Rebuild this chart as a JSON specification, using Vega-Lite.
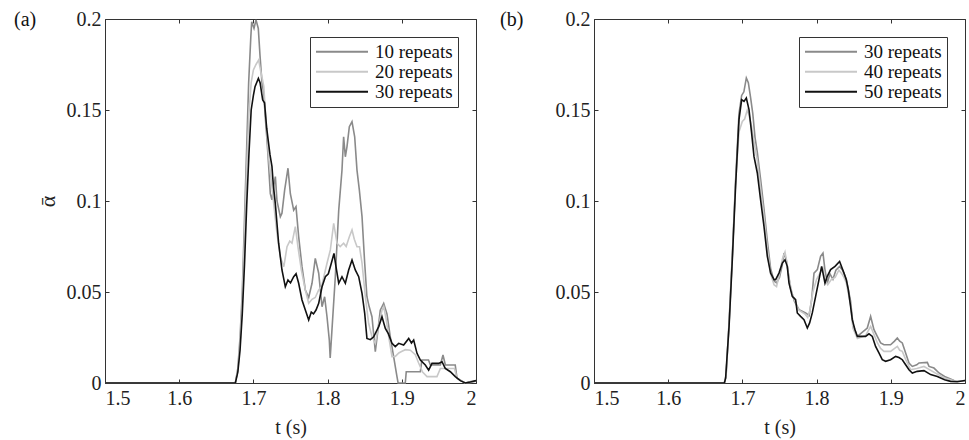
{
"$schema": "https://vega.github.io/schema/vega-lite/v6.json",
"background": "white",
"padding": {"left": 13, "top": 8, "right": 5, "bottom": 5},
"config": {
 "font": "Liberation Serif, Times New Roman, Times, serif",
 "view": {"stroke": "#333333", "strokeWidth": 1},
 "axis": {"labelFont": "Liberation Serif, Times New Roman, Times, serif", "labelFontSize": 20, "labelColor": "#222222", "titleFont": "Liberation Serif, Times New Roman, Times, serif", "titleFontSize": 20, "titleFontWeight": "normal", "titleColor": "#222222", "domain": false, "grid": false, "tickColor": "#333333", "tickSize": -4, "tickWidth": 1},
 "legend": {"orient": "top-right", "offset": 18, "title": null, "labelFont": "Liberation Serif, Times New Roman, Times, serif", "labelFontSize": 19, "labelColor": "#111111", "symbolType": "stroke", "symbolSize": 2704, "symbolStrokeWidth": 1.8, "clipHeight": 19.5, "rowPadding": 0, "labelOffset": 6, "padding": 5, "strokeColor": "#333333", "fillColor": "white"},
 "title": {"font": "Liberation Serif, Times New Roman, Times, serif", "fontSize": 20, "fontWeight": "normal", "color": "#111111"}
},
"datasets": {
 "a": [
  {"s":"10 repeats","t":1.5,"y":0},{"s":"10 repeats","t":1.6757,"y":0},{"s":"10 repeats","t":1.679,"y":0.008},{"s":"10 repeats","t":1.682,"y":0.025},{"s":"10 repeats","t":1.685,"y":0.05},{"s":"10 repeats","t":1.688,"y":0.09},{"s":"10 repeats","t":1.691,"y":0.13},{"s":"10 repeats","t":1.6936,"y":0.165},{"s":"10 repeats","t":1.6965,"y":0.19},{"s":"10 repeats","t":1.6977,"y":0.1985},{"s":"10 repeats","t":1.7008,"y":0.1948},{"s":"10 repeats","t":1.7035,"y":0.1995},{"s":"10 repeats","t":1.7066,"y":0.1948},{"s":"10 repeats","t":1.7089,"y":0.18},{"s":"10 repeats","t":1.7116,"y":0.1647},{"s":"10 repeats","t":1.714,"y":0.159},{"s":"10 repeats","t":1.716,"y":0.146},{"s":"10 repeats","t":1.7183,"y":0.1336},{"s":"10 repeats","t":1.7206,"y":0.119},{"s":"10 repeats","t":1.7228,"y":0.104},{"s":"10 repeats","t":1.725,"y":0.1006},{"s":"10 repeats","t":1.7273,"y":0.108},{"s":"10 repeats","t":1.7296,"y":0.1134},{"s":"10 repeats","t":1.7318,"y":0.1},{"s":"10 repeats","t":1.7363,"y":0.0914},{"s":"10 repeats","t":1.7385,"y":0.0933},{"s":"10 repeats","t":1.7421,"y":0.106},{"s":"10 repeats","t":1.7466,"y":0.118},{"s":"10 repeats","t":1.7498,"y":0.104},{"s":"10 repeats","t":1.7543,"y":0.095},{"s":"10 repeats","t":1.7574,"y":0.0969},{"s":"10 repeats","t":1.761,"y":0.0804},{"s":"10 repeats","t":1.7655,"y":0.0639},{"s":"10 repeats","t":1.77,"y":0.0511},{"s":"10 repeats","t":1.7745,"y":0.047},{"s":"10 repeats","t":1.779,"y":0.0548},{"s":"10 repeats","t":1.7834,"y":0.0685},{"s":"10 repeats","t":1.788,"y":0.0603},{"s":"10 repeats","t":1.7925,"y":0.0419},{"s":"10 repeats","t":1.796,"y":0.0474},{"s":"10 repeats","t":1.7992,"y":0.0364},{"s":"10 repeats","t":1.8023,"y":0.0236},{"s":"10 repeats","t":1.8035,"y":0.0137},{"s":"10 repeats","t":1.806,"y":0.03},{"s":"10 repeats","t":1.8104,"y":0.0584},{"s":"10 repeats","t":1.815,"y":0.095},{"s":"10 repeats","t":1.8194,"y":0.117},{"s":"10 repeats","t":1.8216,"y":0.1353},{"s":"10 repeats","t":1.8239,"y":0.1243},{"s":"10 repeats","t":1.8261,"y":0.1298},{"s":"10 repeats","t":1.8293,"y":0.1408},{"s":"10 repeats","t":1.8329,"y":0.1436},{"s":"10 repeats","t":1.8365,"y":0.1353},{"s":"10 repeats","t":1.8396,"y":0.117},{"s":"10 repeats","t":1.8428,"y":0.106},{"s":"10 repeats","t":1.8464,"y":0.0914},{"s":"10 repeats","t":1.85,"y":0.0658},{"s":"10 repeats","t":1.853,"y":0.0474},{"s":"10 repeats","t":1.856,"y":0.042},{"s":"10 repeats","t":1.8598,"y":0.0364},{"s":"10 repeats","t":1.8625,"y":0.025},{"s":"10 repeats","t":1.8643,"y":0.0172},{"s":"10 repeats","t":1.8675,"y":0.028},{"s":"10 repeats","t":1.871,"y":0.04},{"s":"10 repeats","t":1.8756,"y":0.0438},{"s":"10 repeats","t":1.88,"y":0.038},{"s":"10 repeats","t":1.8845,"y":0.0254},{"s":"10 repeats","t":1.889,"y":0.0145},{"s":"10 repeats","t":1.8935,"y":0.0035},{"s":"10 repeats","t":1.895,"y":0},{"s":"10 repeats","t":1.9047,"y":0},{"s":"10 repeats","t":1.906,"y":0.0062},{"s":"10 repeats","t":1.925,"y":0.0062},{"s":"10 repeats","t":1.927,"y":0.0126},{"s":"10 repeats","t":1.936,"y":0.0126},{"s":"10 repeats","t":1.9385,"y":0.0099},{"s":"10 repeats","t":1.952,"y":0.0099},{"s":"10 repeats","t":1.9555,"y":0.0154},{"s":"10 repeats","t":1.9587,"y":0.0099},{"s":"10 repeats","t":1.972,"y":0.0099},{"s":"10 repeats","t":1.9744,"y":0.0026},{"s":"10 repeats","t":1.985,"y":0},{"s":"10 repeats","t":1.993,"y":0.0008},{"s":"10 repeats","t":2.0,"y":0.001},
  {"s":"20 repeats","t":1.5,"y":0},{"s":"20 repeats","t":1.6757,"y":0},{"s":"20 repeats","t":1.679,"y":0.007},{"s":"20 repeats","t":1.682,"y":0.022},{"s":"20 repeats","t":1.685,"y":0.045},{"s":"20 repeats","t":1.688,"y":0.08},{"s":"20 repeats","t":1.691,"y":0.118},{"s":"20 repeats","t":1.694,"y":0.148},{"s":"20 repeats","t":1.697,"y":0.165},{"s":"20 repeats","t":1.7,"y":0.172},{"s":"20 repeats","t":1.7035,"y":0.175},{"s":"20 repeats","t":1.7071,"y":0.1775},{"s":"20 repeats","t":1.7095,"y":0.172},{"s":"20 repeats","t":1.7116,"y":0.168},{"s":"20 repeats","t":1.714,"y":0.163},{"s":"20 repeats","t":1.716,"y":0.15},{"s":"20 repeats","t":1.7206,"y":0.124},{"s":"20 repeats","t":1.725,"y":0.108},{"s":"20 repeats","t":1.7296,"y":0.09},{"s":"20 repeats","t":1.7318,"y":0.082},{"s":"20 repeats","t":1.7363,"y":0.0694},{"s":"20 repeats","t":1.741,"y":0.0639},{"s":"20 repeats","t":1.7453,"y":0.0749},{"s":"20 repeats","t":1.749,"y":0.078},{"s":"20 repeats","t":1.752,"y":0.0768},{"s":"20 repeats","t":1.7565,"y":0.0859},{"s":"20 repeats","t":1.76,"y":0.0749},{"s":"20 repeats","t":1.7646,"y":0.0621},{"s":"20 repeats","t":1.77,"y":0.0511},{"s":"20 repeats","t":1.7745,"y":0.0438},{"s":"20 repeats","t":1.779,"y":0.046},{"s":"20 repeats","t":1.7834,"y":0.047},{"s":"20 repeats","t":1.788,"y":0.0511},{"s":"20 repeats","t":1.792,"y":0.053},{"s":"20 repeats","t":1.796,"y":0.0603},{"s":"20 repeats","t":1.7992,"y":0.0658},{"s":"20 repeats","t":1.8037,"y":0.0731},{"s":"20 repeats","t":1.8082,"y":0.0877},{"s":"20 repeats","t":1.8127,"y":0.0768},{"s":"20 repeats","t":1.817,"y":0.075},{"s":"20 repeats","t":1.8216,"y":0.0768},{"s":"20 repeats","t":1.825,"y":0.075},{"s":"20 repeats","t":1.8293,"y":0.0804},{"s":"20 repeats","t":1.8329,"y":0.0841},{"s":"20 repeats","t":1.836,"y":0.079},{"s":"20 repeats","t":1.8396,"y":0.0749},{"s":"20 repeats","t":1.843,"y":0.0749},{"s":"20 repeats","t":1.8464,"y":0.0658},{"s":"20 repeats","t":1.8509,"y":0.0474},{"s":"20 repeats","t":1.8553,"y":0.0328},{"s":"20 repeats","t":1.8598,"y":0.0254},{"s":"20 repeats","t":1.8643,"y":0.0218},{"s":"20 repeats","t":1.868,"y":0.03},{"s":"20 repeats","t":1.8733,"y":0.04},{"s":"20 repeats","t":1.8756,"y":0.042},{"s":"20 repeats","t":1.879,"y":0.035},{"s":"20 repeats","t":1.8823,"y":0.0256},{"s":"20 repeats","t":1.8868,"y":0.0145},{"s":"20 repeats","t":1.8913,"y":0.0146},{"s":"20 repeats","t":1.896,"y":0.0165},{"s":"20 repeats","t":1.9003,"y":0.0174},{"s":"20 repeats","t":1.9048,"y":0.0183},{"s":"20 repeats","t":1.9115,"y":0.018},{"s":"20 repeats","t":1.9182,"y":0.0156},{"s":"20 repeats","t":1.9227,"y":0.011},{"s":"20 repeats","t":1.928,"y":0.006},{"s":"20 repeats","t":1.934,"y":0.0035},{"s":"20 repeats","t":1.9474,"y":0.0035},{"s":"20 repeats","t":1.952,"y":0.008},{"s":"20 repeats","t":1.971,"y":0.008},{"s":"20 repeats","t":1.9744,"y":0.0026},{"s":"20 repeats","t":1.985,"y":0},{"s":"20 repeats","t":1.995,"y":0.0005},{"s":"20 repeats","t":2.0,"y":0.001},
  {"s":"30 repeats","t":1.5,"y":0},{"s":"30 repeats","t":1.6757,"y":0},{"s":"30 repeats","t":1.679,"y":0.006},{"s":"30 repeats","t":1.682,"y":0.018},{"s":"30 repeats","t":1.685,"y":0.038},{"s":"30 repeats","t":1.688,"y":0.065},{"s":"30 repeats","t":1.691,"y":0.098},{"s":"30 repeats","t":1.694,"y":0.126},{"s":"30 repeats","t":1.697,"y":0.15},{"s":"30 repeats","t":1.7,"y":0.158},{"s":"30 repeats","t":1.7022,"y":0.1628},{"s":"30 repeats","t":1.7067,"y":0.1674},{"s":"30 repeats","t":1.709,"y":0.165},{"s":"30 repeats","t":1.7125,"y":0.1555},{"s":"30 repeats","t":1.715,"y":0.154},{"s":"30 repeats","t":1.7179,"y":0.14},{"s":"30 repeats","t":1.7224,"y":0.1253},{"s":"30 repeats","t":1.725,"y":0.119},{"s":"30 repeats","t":1.7268,"y":0.109},{"s":"30 repeats","t":1.7295,"y":0.0987},{"s":"30 repeats","t":1.734,"y":0.0768},{"s":"30 repeats","t":1.7385,"y":0.0621},{"s":"30 repeats","t":1.743,"y":0.0529},{"s":"30 repeats","t":1.7466,"y":0.0566},{"s":"30 repeats","t":1.75,"y":0.055},{"s":"30 repeats","t":1.7543,"y":0.0584},{"s":"30 repeats","t":1.7575,"y":0.06},{"s":"30 repeats","t":1.761,"y":0.0548},{"s":"30 repeats","t":1.7655,"y":0.0456},{"s":"30 repeats","t":1.77,"y":0.0401},{"s":"30 repeats","t":1.7745,"y":0.0346},{"s":"30 repeats","t":1.778,"y":0.039},{"s":"30 repeats","t":1.781,"y":0.038},{"s":"30 repeats","t":1.7844,"y":0.0401},{"s":"30 repeats","t":1.788,"y":0.0438},{"s":"30 repeats","t":1.7925,"y":0.0529},{"s":"30 repeats","t":1.797,"y":0.0584},{"s":"30 repeats","t":1.801,"y":0.06},{"s":"30 repeats","t":1.805,"y":0.0658},{"s":"30 repeats","t":1.8086,"y":0.0712},{"s":"30 repeats","t":1.8113,"y":0.0639},{"s":"30 repeats","t":1.815,"y":0.0548},{"s":"30 repeats","t":1.8194,"y":0.0584},{"s":"30 repeats","t":1.8239,"y":0.0548},{"s":"30 repeats","t":1.8284,"y":0.0621},{"s":"30 repeats","t":1.8329,"y":0.0676},{"s":"30 repeats","t":1.8373,"y":0.0621},{"s":"30 repeats","t":1.8419,"y":0.0584},{"s":"30 repeats","t":1.8464,"y":0.0493},{"s":"30 repeats","t":1.85,"y":0.0383},{"s":"30 repeats","t":1.853,"y":0.0245},{"s":"30 repeats","t":1.8576,"y":0.0238},{"s":"30 repeats","t":1.8621,"y":0.0254},{"s":"30 repeats","t":1.8689,"y":0.031},{"s":"30 repeats","t":1.8733,"y":0.0364},{"s":"30 repeats","t":1.8778,"y":0.03},{"s":"30 repeats","t":1.882,"y":0.027},{"s":"30 repeats","t":1.8868,"y":0.0218},{"s":"30 repeats","t":1.8912,"y":0.02},{"s":"30 repeats","t":1.8958,"y":0.0218},{"s":"30 repeats","t":1.9025,"y":0.0209},{"s":"30 repeats","t":1.9093,"y":0.0245},{"s":"30 repeats","t":1.913,"y":0.022},{"s":"30 repeats","t":1.916,"y":0.0236},{"s":"30 repeats","t":1.9205,"y":0.0163},{"s":"30 repeats","t":1.925,"y":0.0126},{"s":"30 repeats","t":1.9317,"y":0.0099},{"s":"30 repeats","t":1.9362,"y":0.0071},{"s":"30 repeats","t":1.9407,"y":0.0108},{"s":"30 repeats","t":1.9497,"y":0.0108},{"s":"30 repeats","t":1.9542,"y":0.0117},{"s":"30 repeats","t":1.9586,"y":0.008},{"s":"30 repeats","t":1.9654,"y":0.0062},{"s":"30 repeats","t":1.9721,"y":0.0035},{"s":"30 repeats","t":1.9789,"y":0.0013},{"s":"30 repeats","t":1.9856,"y":0},{"s":"30 repeats","t":1.9924,"y":0.0005},{"s":"30 repeats","t":2.0,"y":0.0013}
 ],
 "b": [
  {"s":"30 repeats","t":1.5,"y":0},{"s":"30 repeats","t":1.6757,"y":0},{"s":"30 repeats","t":1.678,"y":0.004},{"s":"30 repeats","t":1.682,"y":0.033},{"s":"30 repeats","t":1.6864,"y":0.07},{"s":"30 repeats","t":1.6908,"y":0.111},{"s":"30 repeats","t":1.6954,"y":0.148},{"s":"30 repeats","t":1.699,"y":0.158},{"s":"30 repeats","t":1.702,"y":0.16},{"s":"30 repeats","t":1.7053,"y":0.1676},{"s":"30 repeats","t":1.708,"y":0.165},{"s":"30 repeats","t":1.711,"y":0.157},{"s":"30 repeats","t":1.714,"y":0.148},{"s":"30 repeats","t":1.717,"y":0.135},{"s":"30 repeats","t":1.72,"y":0.127},{"s":"30 repeats","t":1.7245,"y":0.112},{"s":"30 repeats","t":1.729,"y":0.096},{"s":"30 repeats","t":1.7336,"y":0.078},{"s":"30 repeats","t":1.738,"y":0.063},{"s":"30 repeats","t":1.7426,"y":0.056},{"s":"30 repeats","t":1.746,"y":0.055},{"s":"30 repeats","t":1.75,"y":0.058},{"s":"30 repeats","t":1.7538,"y":0.065},{"s":"30 repeats","t":1.7561,"y":0.0714},{"s":"30 repeats","t":1.759,"y":0.068},{"s":"30 repeats","t":1.762,"y":0.06},{"s":"30 repeats","t":1.765,"y":0.052},{"s":"30 repeats","t":1.77,"y":0.045},{"s":"30 repeats","t":1.7763,"y":0.0403},{"s":"30 repeats","t":1.7852,"y":0.0385},{"s":"30 repeats","t":1.79,"y":0.037},{"s":"30 repeats","t":1.7933,"y":0.0458},{"s":"30 repeats","t":1.7965,"y":0.0604},{"s":"30 repeats","t":1.801,"y":0.0623},{"s":"30 repeats","t":1.8054,"y":0.0696},{"s":"30 repeats","t":1.8086,"y":0.0714},{"s":"30 repeats","t":1.811,"y":0.063},{"s":"30 repeats","t":1.8144,"y":0.0549},{"s":"30 repeats","t":1.818,"y":0.06},{"s":"30 repeats","t":1.822,"y":0.057},{"s":"30 repeats","t":1.826,"y":0.062},{"s":"30 repeats","t":1.831,"y":0.064},{"s":"30 repeats","t":1.835,"y":0.062},{"s":"30 repeats","t":1.84,"y":0.057},{"s":"30 repeats","t":1.8458,"y":0.045},{"s":"30 repeats","t":1.849,"y":0.032},{"s":"30 repeats","t":1.8549,"y":0.0256},{"s":"30 repeats","t":1.8683,"y":0.0302},{"s":"30 repeats","t":1.8728,"y":0.0366},{"s":"30 repeats","t":1.8773,"y":0.0293},{"s":"30 repeats","t":1.8818,"y":0.0256},{"s":"30 repeats","t":1.8863,"y":0.022},{"s":"30 repeats","t":1.8908,"y":0.021},{"s":"30 repeats","t":1.8997,"y":0.021},{"s":"30 repeats","t":1.905,"y":0.023},{"s":"30 repeats","t":1.9088,"y":0.0247},{"s":"30 repeats","t":1.912,"y":0.023},{"s":"30 repeats","t":1.9155,"y":0.022},{"s":"30 repeats","t":1.92,"y":0.0165},{"s":"30 repeats","t":1.9245,"y":0.011},{"s":"30 repeats","t":1.929,"y":0.0091},{"s":"30 repeats","t":1.935,"y":0.01},{"s":"30 repeats","t":1.938,"y":0.011},{"s":"30 repeats","t":1.9492,"y":0.0113},{"s":"30 repeats","t":1.9515,"y":0.0091},{"s":"30 repeats","t":1.9582,"y":0.0082},{"s":"30 repeats","t":1.965,"y":0.0055},{"s":"30 repeats","t":1.9725,"y":0.0036},{"s":"30 repeats","t":1.9852,"y":0.0014},{"s":"30 repeats","t":1.992,"y":0.001},{"s":"30 repeats","t":2.0,"y":0.0014},
  {"s":"40 repeats","t":1.5,"y":0},{"s":"40 repeats","t":1.6757,"y":0},{"s":"40 repeats","t":1.678,"y":0.004},{"s":"40 repeats","t":1.682,"y":0.032},{"s":"40 repeats","t":1.6864,"y":0.069},{"s":"40 repeats","t":1.6908,"y":0.11},{"s":"40 repeats","t":1.6954,"y":0.138},{"s":"40 repeats","t":1.6999,"y":0.1437},{"s":"40 repeats","t":1.703,"y":0.145},{"s":"40 repeats","t":1.7066,"y":0.15},{"s":"40 repeats","t":1.709,"y":0.147},{"s":"40 repeats","t":1.712,"y":0.142},{"s":"40 repeats","t":1.715,"y":0.134},{"s":"40 repeats","t":1.7201,"y":0.122},{"s":"40 repeats","t":1.7245,"y":0.107},{"s":"40 repeats","t":1.729,"y":0.092},{"s":"40 repeats","t":1.7336,"y":0.074},{"s":"40 repeats","t":1.738,"y":0.06},{"s":"40 repeats","t":1.7426,"y":0.054},{"s":"40 repeats","t":1.746,"y":0.053},{"s":"40 repeats","t":1.75,"y":0.06},{"s":"40 repeats","t":1.7538,"y":0.068},{"s":"40 repeats","t":1.7574,"y":0.072},{"s":"40 repeats","t":1.76,"y":0.066},{"s":"40 repeats","t":1.763,"y":0.057},{"s":"40 repeats","t":1.767,"y":0.049},{"s":"40 repeats","t":1.772,"y":0.044},{"s":"40 repeats","t":1.776,"y":0.04},{"s":"40 repeats","t":1.78,"y":0.039},{"s":"40 repeats","t":1.784,"y":0.038},{"s":"40 repeats","t":1.788,"y":0.036},{"s":"40 repeats","t":1.791,"y":0.04},{"s":"40 repeats","t":1.795,"y":0.05},{"s":"40 repeats","t":1.8,"y":0.057},{"s":"40 repeats","t":1.804,"y":0.06},{"s":"40 repeats","t":1.8086,"y":0.063},{"s":"40 repeats","t":1.811,"y":0.057},{"s":"40 repeats","t":1.815,"y":0.054},{"s":"40 repeats","t":1.82,"y":0.057},{"s":"40 repeats","t":1.825,"y":0.058},{"s":"40 repeats","t":1.83,"y":0.062},{"s":"40 repeats","t":1.834,"y":0.06},{"s":"40 repeats","t":1.8369,"y":0.058},{"s":"40 repeats","t":1.84,"y":0.055},{"s":"40 repeats","t":1.8458,"y":0.043},{"s":"40 repeats","t":1.849,"y":0.03},{"s":"40 repeats","t":1.855,"y":0.0245},{"s":"40 repeats","t":1.866,"y":0.026},{"s":"40 repeats","t":1.8728,"y":0.0311},{"s":"40 repeats","t":1.877,"y":0.027},{"s":"40 repeats","t":1.882,"y":0.022},{"s":"40 repeats","t":1.8863,"y":0.019},{"s":"40 repeats","t":1.8908,"y":0.0174},{"s":"40 repeats","t":1.8997,"y":0.0174},{"s":"40 repeats","t":1.9088,"y":0.0201},{"s":"40 repeats","t":1.912,"y":0.018},{"s":"40 repeats","t":1.9155,"y":0.0174},{"s":"40 repeats","t":1.92,"y":0.013},{"s":"40 repeats","t":1.9267,"y":0.0073},{"s":"40 repeats","t":1.935,"y":0.008},{"s":"40 repeats","t":1.9447,"y":0.0091},{"s":"40 repeats","t":1.9515,"y":0.0075},{"s":"40 repeats","t":1.96,"y":0.0055},{"s":"40 repeats","t":1.9725,"y":0.0028},{"s":"40 repeats","t":1.985,"y":0.0012},{"s":"40 repeats","t":2.0,"y":0.0012},
  {"s":"50 repeats","t":1.5,"y":0},{"s":"50 repeats","t":1.6757,"y":0},{"s":"50 repeats","t":1.6774,"y":0.0027},{"s":"50 repeats","t":1.682,"y":0.031},{"s":"50 repeats","t":1.6864,"y":0.0677},{"s":"50 repeats","t":1.6908,"y":0.108},{"s":"50 repeats","t":1.6954,"y":0.1447},{"s":"50 repeats","t":1.699,"y":0.1557},{"s":"50 repeats","t":1.7022,"y":0.1547},{"s":"50 repeats","t":1.7053,"y":0.1566},{"s":"50 repeats","t":1.7089,"y":0.1502},{"s":"50 repeats","t":1.7124,"y":0.1374},{"s":"50 repeats","t":1.7156,"y":0.1245},{"s":"50 repeats","t":1.7201,"y":0.1154},{"s":"50 repeats","t":1.7245,"y":0.1007},{"s":"50 repeats","t":1.7291,"y":0.086},{"s":"50 repeats","t":1.7336,"y":0.0696},{"s":"50 repeats","t":1.738,"y":0.0604},{"s":"50 repeats","t":1.7426,"y":0.0568},{"s":"50 repeats","t":1.7448,"y":0.0568},{"s":"50 repeats","t":1.7493,"y":0.0604},{"s":"50 repeats","t":1.7538,"y":0.0659},{"s":"50 repeats","t":1.7574,"y":0.0677},{"s":"50 repeats","t":1.7605,"y":0.0641},{"s":"50 repeats","t":1.7628,"y":0.0549},{"s":"50 repeats","t":1.7672,"y":0.0476},{"s":"50 repeats","t":1.7717,"y":0.0458},{"s":"50 repeats","t":1.774,"y":0.0385},{"s":"50 repeats","t":1.7784,"y":0.0366},{"s":"50 repeats","t":1.783,"y":0.0348},{"s":"50 repeats","t":1.7875,"y":0.0302},{"s":"50 repeats","t":1.7906,"y":0.033},{"s":"50 repeats","t":1.7942,"y":0.0385},{"s":"50 repeats","t":1.7987,"y":0.0476},{"s":"50 repeats","t":1.8032,"y":0.0568},{"s":"50 repeats","t":1.8068,"y":0.0641},{"s":"50 repeats","t":1.8113,"y":0.0549},{"s":"50 repeats","t":1.8144,"y":0.0586},{"s":"50 repeats","t":1.8189,"y":0.0623},{"s":"50 repeats","t":1.8248,"y":0.0641},{"s":"50 repeats","t":1.831,"y":0.0668},{"s":"50 repeats","t":1.8369,"y":0.0604},{"s":"50 repeats","t":1.84,"y":0.0568},{"s":"50 repeats","t":1.8427,"y":0.0513},{"s":"50 repeats","t":1.8458,"y":0.0421},{"s":"50 repeats","t":1.8481,"y":0.0348},{"s":"50 repeats","t":1.8517,"y":0.0293},{"s":"50 repeats","t":1.8549,"y":0.0256},{"s":"50 repeats","t":1.866,"y":0.0256},{"s":"50 repeats","t":1.8706,"y":0.027},{"s":"50 repeats","t":1.8751,"y":0.0256},{"s":"50 repeats","t":1.8795,"y":0.0201},{"s":"50 repeats","t":1.884,"y":0.0165},{"s":"50 repeats","t":1.8885,"y":0.0128},{"s":"50 repeats","t":1.893,"y":0.0119},{"s":"50 repeats","t":1.8997,"y":0.0128},{"s":"50 repeats","t":1.9065,"y":0.0146},{"s":"50 repeats","t":1.911,"y":0.014},{"s":"50 repeats","t":1.9155,"y":0.0128},{"s":"50 repeats","t":1.92,"y":0.01},{"s":"50 repeats","t":1.9245,"y":0.0073},{"s":"50 repeats","t":1.929,"y":0.0055},{"s":"50 repeats","t":1.9357,"y":0.0064},{"s":"50 repeats","t":1.9447,"y":0.0068},{"s":"50 repeats","t":1.9537,"y":0.0046},{"s":"50 repeats","t":1.9627,"y":0.0036},{"s":"50 repeats","t":1.9725,"y":0.0018},{"s":"50 repeats","t":1.9806,"y":0.0009},{"s":"50 repeats","t":1.9896,"y":0.0007},{"s":"50 repeats","t":2.0,"y":0.0014}
 ]
},
"spacing": 19,
"resolve": {"scale": {"color": "independent"}, "legend": {"color": "independent"}},
"hconcat": [
 {
  "width": 371, "height": 364,
  "title": {"text": "(a)", "anchor": "start", "frame": "group", "dx": -91, "dy": 25},
  "layer": [
   {"data": {"name": "a"}, "mark": {"type": "line", "strokeWidth": 1.6},
    "encoding": {
     "x": {"field": "t", "type": "quantitative", "scale": {"domain": [1.5, 2], "nice": false}, "axis": {"values": [1.5,1.6,1.7,1.8,1.9,2], "format": "~g", "title": "t (s)", "labelPadding": 9, "titlePadding": 9}},
     "y": {"field": "y", "type": "quantitative", "scale": {"domain": [0, 0.2], "nice": false}, "axis": {"values": [0,0.05,0.1,0.15,0.2], "format": "~g", "title": "ᾱ", "titleFontSize": 22, "labelPadding": 8, "titlePadding": 7}},
     "color": {"field": "s", "type": "nominal", "scale": {"domain": ["10 repeats","20 repeats","30 repeats"], "range": ["#8a8a8a","#c8c8c8","#111111"]}, "legend": {}}
    }},
   {"data": {"name": "a"}, "mark": {"type": "line", "opacity": 0},
    "encoding": {
     "x": {"field": "t", "type": "quantitative", "scale": {"domain": [1.5, 2], "nice": false}, "axis": {"orient": "top", "values": [1.5,1.6,1.7,1.8,1.9,2], "labels": false, "title": null}},
     "y": {"field": "y", "type": "quantitative", "scale": {"domain": [0, 0.2], "nice": false}, "axis": {"orient": "right", "values": [0,0.05,0.1,0.15,0.2], "labels": false, "title": null}}
    }}
  ],
  "resolve": {"axis": {"x": "independent", "y": "independent"}}
 },
 {
  "width": 371, "height": 364,
  "title": {"text": "(b)", "anchor": "start", "frame": "group", "dx": -94, "dy": 25},
  "layer": [
   {"data": {"name": "b"}, "mark": {"type": "line", "strokeWidth": 1.6},
    "encoding": {
     "x": {"field": "t", "type": "quantitative", "scale": {"domain": [1.5, 2], "nice": false}, "axis": {"values": [1.5,1.6,1.7,1.8,1.9,2], "format": "~g", "title": "t (s)", "labelPadding": 9, "titlePadding": 9}},
     "y": {"field": "y", "type": "quantitative", "scale": {"domain": [0, 0.2], "nice": false}, "axis": {"values": [0,0.05,0.1,0.15,0.2], "format": "~g", "title": null, "labelPadding": 8}},
     "color": {"field": "s", "type": "nominal", "scale": {"domain": ["30 repeats","40 repeats","50 repeats"], "range": ["#8a8a8a","#c8c8c8","#111111"]}, "legend": {}}
    }},
   {"data": {"name": "b"}, "mark": {"type": "line", "opacity": 0},
    "encoding": {
     "x": {"field": "t", "type": "quantitative", "scale": {"domain": [1.5, 2], "nice": false}, "axis": {"orient": "top", "values": [1.5,1.6,1.7,1.8,1.9,2], "labels": false, "title": null}},
     "y": {"field": "y", "type": "quantitative", "scale": {"domain": [0, 0.2], "nice": false}, "axis": {"orient": "right", "values": [0,0.05,0.1,0.15,0.2], "labels": false, "title": null}}
    }}
  ],
  "resolve": {"axis": {"x": "independent", "y": "independent"}}
 }
]
}
